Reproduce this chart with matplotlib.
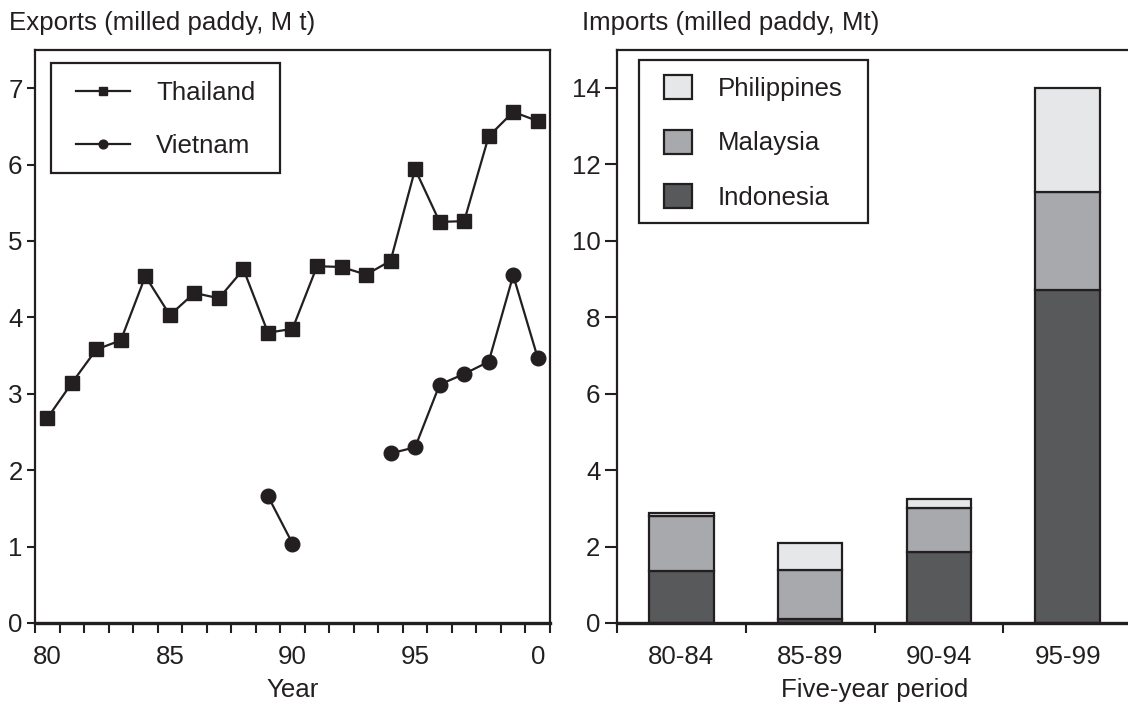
import numpy as np
import matplotlib
matplotlib.use("Agg")
import matplotlib.pyplot as plt
from matplotlib.patches import Patch, Rectangle

plt.rcParams['font.family'] = ['Liberation Sans', 'DejaVu Sans']

INK = '#231f20'
FS = 18.6

# exports (left panel)
years = np.arange(1980, 2001)
thailand = [2.68, 3.14, 3.58, 3.70, 4.54, 4.03, 4.32, 4.25, 4.63, 3.80, 3.85,
            4.67, 4.66, 4.56, 4.74, 5.94, 5.25, 5.26, 6.37, 6.69, 6.57]
vietnam = [np.nan] * 9 + [1.66, 1.04, np.nan, np.nan, np.nan,
                          2.22, 2.30, 3.12, 3.26, 3.42, 4.55, 3.47]
year_ticks = [1980, 1985, 1990, 1995, 2000]
year_labels = ['80', '85', '90', '95', '0']

# imports (right panel)
periods = ['80-84', '85-89', '90-94', '95-99']
indonesia = [1.36, 0.10, 1.85, 8.71]
malaysia = [1.45, 1.28, 1.16, 2.55]
philippines = [0.07, 0.70, 0.23, 2.72]

fig = plt.figure(figsize=(11.28, 7.02), dpi=100)
W, H = 1128, 702


def style_axes(ax):
    for s in ax.spines.values():
        s.set_linewidth(1.6)
        s.set_color(INK)
    ax.spines['bottom'].set_linewidth(2.4)
    ax.tick_params(colors=INK, labelsize=FS, width=1.5)
    ax.tick_params(axis='x', which='major', length=0, pad=16)
    ax.tick_params(axis='x', which='minor', length=7, width=1.5, color=INK)


def legend_box(ax, x, y, w, h):
    # frame drawn by hand so the paddings can differ from matplotlib's
    ax.add_patch(Rectangle((x, y), w, h, transform=ax.transAxes,
                           facecolor='white', edgecolor=INK, lw=1.6,
                           zorder=4, clip_on=False))


# ---- left: exports ----
aw, ah = 515, 573
ax1 = fig.add_axes([35 / W, 79 / H, aw / W, ah / H])
ax1.plot(years, thailand, color=INK, lw=1.6, marker='s', ms=9.5,
         label='Thailand')
ax1.plot(years, vietnam, color=INK, lw=1.6, marker='o', ms=10.5,
         label='Vietnam')
ax1.set_xlim(1979.5, 2000.5)
ax1.set_ylim(0, 7.5)
ax1.set_xticks(year_ticks)
ax1.set_xticklabels(year_labels)
ax1.set_xticks(np.arange(1979.5, 2001, 1), minor=True)
ax1.set_yticks(range(0, 8))
style_axes(ax1)
ax1.tick_params(axis='y', length=6, pad=3)
ax1.set_xlabel('Year', fontsize=FS, color=INK, labelpad=6)
legend_box(ax1, 16 / aw, (623 - 173) / ah, 229 / aw, 110 / ah)
leg1 = ax1.legend(loc='center left',
                  bbox_to_anchor=((76 - 35) / aw, (623 - 119.5) / ah),
                  borderaxespad=0, borderpad=0, frameon=False, fontsize=FS,
                  handlelength=2.1, handletextpad=1.0, labelspacing=1.15,
                  markerscale=0.6, labelcolor=INK)
leg1.set_zorder(5)

# ---- right: imports ----
bw, bh = 515, 573.5
ax2 = fig.add_axes([617 / W, 79 / H, bw / W, bh / H])
x = np.arange(len(periods))
bot2 = np.array(indonesia) + np.array(malaysia)
kw = dict(width=0.5, edgecolor=INK, linewidth=1.6)
ax2.bar(x, indonesia, color='#58595b', **kw)
ax2.bar(x, malaysia, bottom=indonesia, color='#a7a9ac', **kw)
ax2.bar(x, philippines, bottom=bot2, color='#e6e7e8', **kw)
ax2.set_xlim(-0.5, 3.5)
ax2.set_ylim(0, 15)
ax2.set_xticks(x)
ax2.set_xticklabels(periods)
ax2.set_xticks(np.arange(-0.5, 3.6, 1), minor=True)
ax2.set_yticks(range(0, 15, 2))
style_axes(ax2)
ax2.tick_params(axis='y', length=9, pad=3)
ax2.set_xlabel('Five-year period', fontsize=FS, color=INK, labelpad=6)
handles = [Patch(facecolor='#e6e7e8', edgecolor=INK, lw=1.6, label='Philippines'),
           Patch(facecolor='#a7a9ac', edgecolor=INK, lw=1.6, label='Malaysia'),
           Patch(facecolor='#58595b', edgecolor=INK, lw=1.6, label='Indonesia')]
legend_box(ax2, 22 / bw, (623 - 223) / bh, 229 / bw, 163 / bh)
leg2 = ax2.legend(handles=handles, loc='center left',
                  bbox_to_anchor=((664 - 617) / bw, (623 - 142.5) / bh),
                  borderaxespad=0, borderpad=0, frameon=False, fontsize=FS,
                  handlelength=1.08, handleheight=1.05, handletextpad=1.0,
                  labelspacing=1.1, labelcolor=INK)
leg2.set_zorder(5)

fig.text(9 / W, 1 - 30 / H, 'Exports (milled paddy, M t)', fontsize=FS,
         color=INK, va='baseline', ha='left')
fig.text(582 / W, 1 - 30 / H, 'Imports (milled paddy, Mt)', fontsize=FS,
         color=INK, va='baseline', ha='left')

fig.savefig('out.png', dpi=100)
